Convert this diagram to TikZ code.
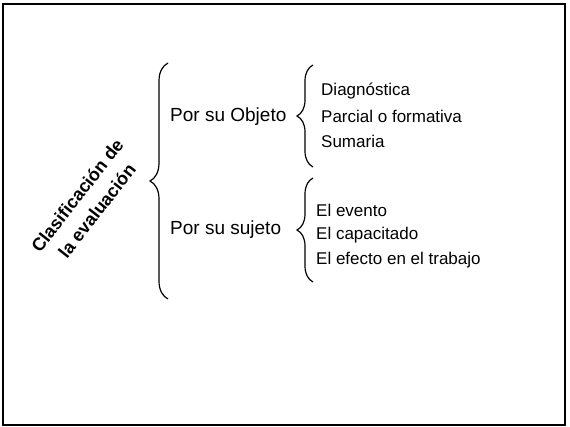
\documentclass[tikz,border=0pt]{standalone}
\usepackage{fontspec}
\setmainfont{Liberation Sans}
\usetikzlibrary{decorations.pathreplacing,positioning}
\tikzset{
  rootlbl/.style  = {font=\fontsize{18}{25}\selectfont\bfseries, align=center,
                     inner sep=0pt, rotate=52},
  branch/.style   = {font=\fontsize{19}{23}\selectfont, anchor=west, inner sep=0pt},
  leafitem/.style = {font=\fontsize{17}{21}\selectfont, anchor=west, inner sep=0pt},
  bigbrace/.style = {decorate, decoration={brace, amplitude=18pt}, line width=1.2pt},
  subbrace/.style = {decorate, decoration={brace, amplitude=16pt}, line width=1.2pt},
}

\begin{document}
\begin{tikzpicture}[x=1pt, y=-1pt]
\useasboundingbox (0,0) rectangle (570,427);

%── frame ─────────────────────────────────────────────
\draw[line width=1.5pt] (3,4) rectangle (565,425);

%── root label ────────────────────────────────────────
\node[rootlbl] (root) at (87,203) {Clasificación de\\la evaluación};

%── big brace ─────────────────────────────────────────
\coordinate (bbot) at (168,299);
\coordinate (btop) at (168,63);
\draw[bigbrace] (bbot) -- (btop);

%── branch: objeto ────────────────────────────────────
\node[branch] (obj) at (170,117) {Por su Objeto};
\coordinate (obot) at (313,167);
\coordinate (otop) at (313,65);
\draw[subbrace] (obot) -- (otop);
\foreach \n/\y/\txt in {d1/91/Diagnóstica, d2/116/Parcial o formativa, d3/141/Sumaria}{
  \node[leafitem] (\n) at (321,\y) {\txt};
}

%── branch: sujeto ────────────────────────────────────
\node[branch] (suj) at (170,230) {Por su sujeto};
\coordinate (sbot) at (313,282);
\coordinate (stop) at (313,178);
\draw[subbrace] (sbot) -- (stop);
\foreach \n/\y/\txt in {e1/210/El evento, e2/235/El capacitado, e3/260/El efecto en el trabajo}{
  \node[leafitem] (\n) at (316,\y) {\txt};
}

\end{tikzpicture}
\end{document}
